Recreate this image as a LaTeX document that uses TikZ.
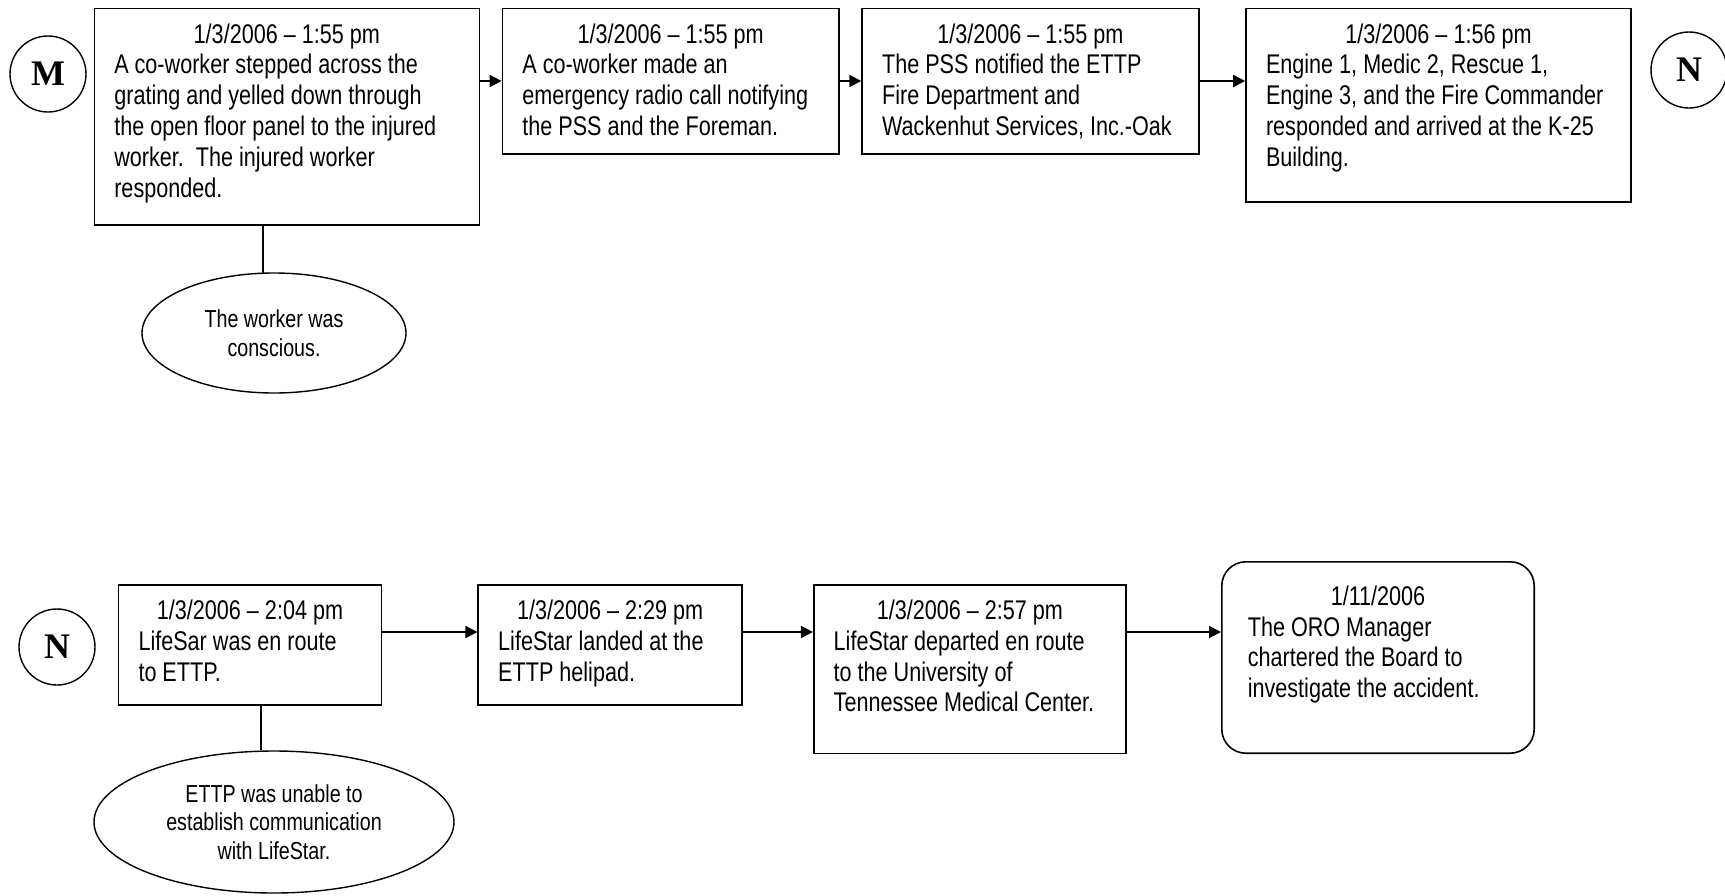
\documentclass[tikz,border=0pt]{standalone}
\usepackage{fontspec}
\setmainfont[FakeStretch=0.8]{Liberation Sans}
\newfontfamily\markfont{Liberation Serif}
\usetikzlibrary{shapes.geometric,arrows.meta}

% date centred on top, event text left aligned below it
\newcommand{\evtext}[4]{\parbox[t][#2][t]{#1}{\centering #3\par\raggedright #4}}

\tikzset{
  evbox/.style={draw, line width=0.8pt, anchor=north west, inner xsep=10pt, inner ysep=7.5pt,
    font=\fontsize{13.5}{15.4}\selectfont},
  note/.style={draw, ellipse, line width=0.7pt, inner sep=0pt, align=center,
    font=\fontsize{12.3}{14.2}\selectfont},
  conn/.style={draw, circle, line width=0.7pt, minimum size=38pt, inner sep=0pt,
    font=\markfont\bfseries\fontsize{18}{18}\selectfont},
  link/.style={line width=0.9pt, -{Triangle[length=6pt,width=6pt]}}
}

\begin{document}
\begin{tikzpicture}[x=0.5pt,y=-0.5pt]
\useasboundingbox (0,0) rectangle (1725,895);

% first row
\node[conn] (M) at (48,74) {M};
\node[evbox] (E1) at (93.5,7.7) {\evtext{172.5pt}{93.3pt}{1/3/2006 – 1:55 pm}{A co-worker stepped across the\\grating and yelled down through\\the open floor panel to the injured\\worker.\ \ The injured worker\\responded.}};
\node[evbox] (E2) at (501.6,7.7) {\evtext{148.3pt}{57.6pt}{1/3/2006 – 1:55 pm}{A co-worker made an\\emergency radio call notifying\\the PSS and the Foreman.}};
\node[evbox] (E3) at (861.3,7.7) {\evtext{148.3pt}{57.6pt}{1/3/2006 – 1:55 pm}{The PSS notified the ETTP\\Fire Department and\\Wackenhut Services, Inc.-Oak}};
\node[evbox] (E4) at (1245.2,7.7) {\evtext{172.5pt}{81.8pt}{1/3/2006 – 1:56 pm}{Engine 1, Medic 2, Rescue 1,\\Engine 3, and the Fire Commander\\responded and arrived at the K-25\\Building.}};
\node[conn] (N1) at (1689,70) {N};
\node[note, minimum width=132pt, minimum height=60pt] (W1) at (274,333) {The worker was\\conscious.};

% second row
\node[conn] (N2) at (57,647) {N};
\node[evbox] (E5) at (117.7,584.1) {\evtext{111.5pt}{45pt}{1/3/2006 – 2:04 pm}{LifeSar was en route\\to ETTP.}};
\node[evbox] (E6) at (477.4,584.1) {\evtext{112pt}{45pt}{1/3/2006 – 2:29 pm}{LifeStar landed at the\\ETTP helipad.}};
\node[evbox] (E7) at (812.9,584.1) {\evtext{136.2pt}{69.2pt}{1/3/2006 – 2:57 pm}{LifeStar departed en route\\to the University of\\Tennessee Medical Center.}};
\node[evbox, rounded corners=12pt, inner xsep=13pt, inner ysep=12pt] (E8) at (1221,561) {\evtext{130.2pt}{71.7pt}{1/11/2006}{The ORO Manager\\chartered the Board to\\investigate the accident.}};
\node[note, minimum width=180pt, minimum height=71pt] (W2) at (274,822) {ETTP was unable to\\establish communication\\with LifeStar.};

\coordinate (r1) at (0,81);
\coordinate (r2) at (0,632);

\draw[link] (E1.east |- r1) -- (E2.west |- r1);
\draw[link] (E2.east |- r1) -- (E3.west |- r1);
\draw[link] (E3.east |- r1) -- (E4.west |- r1);
\draw[line width=0.9pt] (W1.100) -- (W1.100 |- E1.south);

\draw[link] (E5.east |- r2) -- (E6.west |- r2);
\draw[link] (E6.east |- r2) -- (E7.west |- r2);
\draw[link] (E7.east |- r2) -- (E8.west |- r2);
\draw[line width=0.9pt] (W2.100) -- (W2.100 |- E5.south);
\end{tikzpicture}
\end{document}
